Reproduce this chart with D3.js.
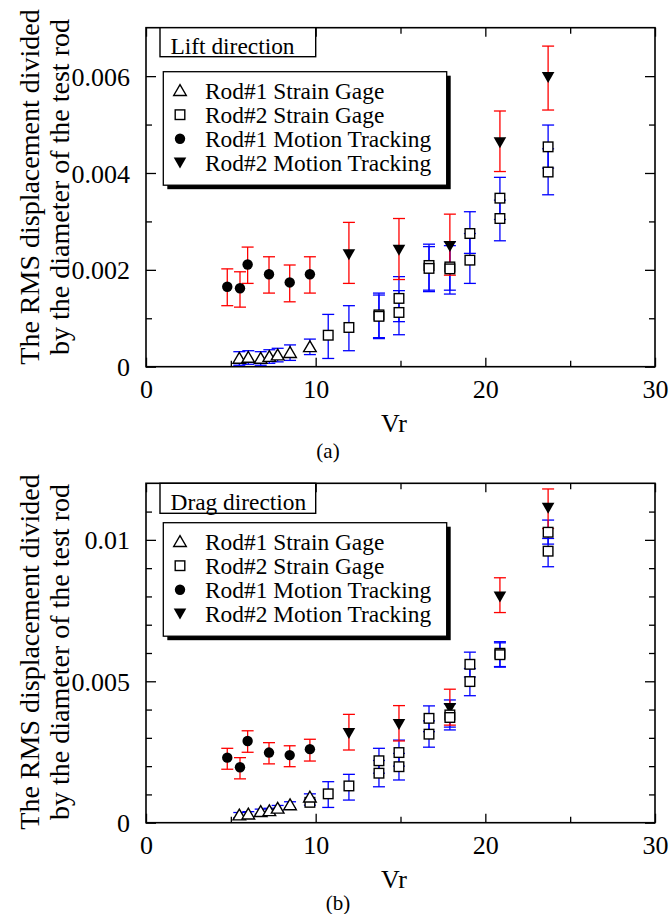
<!DOCTYPE html>
<html><head><meta charset="utf-8">
<script src="https://cdn.jsdelivr.net/npm/d3@7"></script>
<style>
html,body{margin:0;padding:0;background:#fff;}
svg{display:block;}
text{font-family:"Liberation Serif","Times New Roman",Times,serif;fill:#000;}
</style></head>
<body>
<svg id="fig" width="672" height="914"></svg>
<script>
// ---------- DATA (each row: [Vr, value, lower bound, upper bound]) ----------
const seriesNames = ["Rod#1 Strain Gage", "Rod#2 Strain Gage", "Rod#1 Motion Tracking", "Rod#2 Motion Tracking"];
const xTicks = [0, 10, 20, 30];
const xMinor = [5, 15, 25];

// (a) Lift direction
const liftYTicks = [0, 0.002, 0.004, 0.006];
const liftYLabels = ["0", "0.002", "0.004", "0.006"];
const liftYMinor = [0.001, 0.003, 0.005];
const liftRod1SG = [
  [5.50, 0.00017, 0.00003, 0.00031],
  [6.03, 0.00019, 0.00005, 0.00033],
  [6.76, 0.00017, 0.00003, 0.00031],
  [7.27, 0.00021, 0.00007, 0.00035],
  [7.76, 0.00024, 0.00010, 0.00038],
  [8.49, 0.00029, 0.00013, 0.00045],
  [9.66, 0.00041, 0.00025, 0.00057]
];
const liftRod2SG = [
  [10.74, 0.00065, 0.00017, 0.00108],
  [11.96, 0.00081, 0.00033, 0.00126],
  [13.73, 0.00107, 0.00060, 0.00152],
  [13.73, 0.00104, 0.00058, 0.00148],
  [14.91, 0.00141, 0.00093, 0.00186],
  [14.91, 0.00112, 0.00066, 0.00157],
  [16.68, 0.00209, 0.00158, 0.00253],
  [16.68, 0.00203, 0.00155, 0.00248],
  [17.91, 0.00206, 0.00158, 0.00258],
  [17.91, 0.00202, 0.00150, 0.00250],
  [19.09, 0.00275, 0.00234, 0.00320],
  [19.09, 0.00220, 0.00172, 0.00275],
  [20.86, 0.00348, 0.00304, 0.00391],
  [20.86, 0.00306, 0.00260, 0.00344],
  [23.70, 0.00454, 0.00410, 0.00499],
  [23.70, 0.00402, 0.00355, 0.00450]
];
const liftRod1MT = [
  [4.79, 0.00165, 0.00126, 0.00202],
  [5.54, 0.00162, 0.00123, 0.00196],
  [5.99, 0.00211, 0.00172, 0.00247],
  [7.25, 0.00191, 0.00152, 0.00227],
  [8.47, 0.00174, 0.00134, 0.00210],
  [9.66, 0.00191, 0.00152, 0.00227]
];
const liftRod2MT = [
  [11.96, 0.00232, 0.00172, 0.00298],
  [14.91, 0.00241, 0.00180, 0.00306],
  [17.91, 0.00249, 0.00189, 0.00315],
  [20.86, 0.00463, 0.00403, 0.00528],
  [23.70, 0.00598, 0.00530, 0.00662]
];

// (b) Drag direction
const dragYTicks = [0, 0.005, 0.01];
const dragYLabels = ["0", "0.005", "0.01"];
const dragYMinor = [0.001, 0.002, 0.003, 0.004, 0.006, 0.007, 0.008, 0.009, 0.011];
const dragRod1SG = [
  [5.50, 0.00027, 0.00018, 0.00036],
  [6.03, 0.00030, 0.00021, 0.00039],
  [6.76, 0.00039, 0.00030, 0.00048],
  [7.27, 0.00042, 0.00033, 0.00051],
  [7.76, 0.00051, 0.00041, 0.00061],
  [8.49, 0.00063, 0.00052, 0.00074],
  [9.66, 0.00090, 0.00078, 0.00102]
];
const dragRod2SG = [
  [9.66, 0.00072, 0.00062, 0.00082],
  [10.74, 0.00102, 0.00054, 0.00145],
  [11.96, 0.00130, 0.00080, 0.00171],
  [13.73, 0.00219, 0.00175, 0.00263],
  [13.73, 0.00175, 0.00127, 0.00220],
  [14.91, 0.00248, 0.00200, 0.00292],
  [14.91, 0.00198, 0.00151, 0.00245],
  [16.68, 0.00369, 0.00322, 0.00413],
  [16.68, 0.00313, 0.00267, 0.00360],
  [17.91, 0.00381, 0.00338, 0.00434],
  [17.91, 0.00372, 0.00328, 0.00420],
  [19.09, 0.00560, 0.00515, 0.00603],
  [19.09, 0.00499, 0.00449, 0.00545],
  [20.86, 0.00599, 0.00552, 0.00640],
  [20.86, 0.00594, 0.00550, 0.00636],
  [23.70, 0.01027, 0.00985, 0.01070],
  [23.70, 0.00960, 0.00905, 0.01005]
];
const dragRod1MT = [
  [4.79, 0.00230, 0.00189, 0.00263],
  [5.54, 0.00196, 0.00155, 0.00230],
  [5.99, 0.00289, 0.00249, 0.00325],
  [7.25, 0.00248, 0.00208, 0.00283],
  [8.47, 0.00239, 0.00198, 0.00272],
  [9.66, 0.00260, 0.00218, 0.00295]
];
const dragRod2MT = [
  [11.96, 0.00316, 0.00257, 0.00383],
  [14.91, 0.00348, 0.00289, 0.00414],
  [17.91, 0.00405, 0.00345, 0.00472],
  [20.86, 0.00799, 0.00743, 0.00866],
  [23.70, 0.01113, 0.01040, 0.01180]
];

// ---------- DRAWING ----------
const svg = d3.select("#fig");
const RED = "#ff0000", BLUE = "#0000ff";

function marker(g, type, cx, cy) {
  if (type === "tri") {
    g.append("path").attr("d", `M${cx},${cy-6}L${cx+6.3},${cy+4.8}L${cx-6.3},${cy+4.8}Z`)
      .attr("fill", "#fff").attr("stroke", "#000").attr("stroke-width", 1.4);
  } else if (type === "sq") {
    g.append("rect").attr("x", cx-4.8).attr("y", cy-4.8).attr("width", 9.6).attr("height", 9.6)
      .attr("fill", "#fff").attr("stroke", "#000").attr("stroke-width", 1.4);
  } else if (type === "dot") {
    g.append("circle").attr("cx", cx).attr("cy", cy).attr("r", 5.2).attr("fill", "#000");
  } else if (type === "inv") {
    g.append("path").attr("d", `M${cx-6.3},${cy-5.2}L${cx+6.3},${cy-5.2}L${cx},${cy+5.8}Z`).attr("fill", "#000");
  }
}

function drawChart(cfg) {
  const x = d3.scaleLinear().domain([0, 30]).range([146, 655]);
  const y = d3.scaleLinear().domain([0, cfg.ymax]).range([cfg.bottom, cfg.top]);
  const g = svg.append("g");

  // axes (ticks inward, all four sides)
  const fmtY = d => cfg.yLabels[cfg.yTicks.indexOf(d)];
  const axL = g.append("g").attr("transform", "translate(146,0)")
    .call(d3.axisLeft(y).tickValues(cfg.yTicks).tickFormat(fmtY).tickSizeInner(-10).tickSizeOuter(0).tickPadding(16));
  g.append("g").attr("transform", "translate(146,0)")
    .call(d3.axisLeft(y).tickValues(cfg.yMinor).tickFormat("").tickSizeInner(-6).tickSizeOuter(0));
  g.append("g").attr("transform", "translate(655,0)")
    .call(d3.axisRight(y).tickValues(cfg.yTicks).tickFormat("").tickSizeInner(-10).tickSizeOuter(0));
  g.append("g").attr("transform", "translate(655,0)")
    .call(d3.axisRight(y).tickValues(cfg.yMinor).tickFormat("").tickSizeInner(-6).tickSizeOuter(0));
  const axB = g.append("g").attr("transform", `translate(0,${cfg.bottom})`)
    .call(d3.axisBottom(x).tickValues(xTicks).tickFormat(d3.format("d")).tickSizeInner(-9).tickSizeOuter(0).tickPadding(13));
  g.append("g").attr("transform", `translate(0,${cfg.bottom})`)
    .call(d3.axisBottom(x).tickValues(xMinor).tickFormat("").tickSizeInner(-6).tickSizeOuter(0));
  g.append("g").attr("transform", `translate(0,${cfg.top})`)
    .call(d3.axisTop(x).tickValues(xTicks).tickFormat("").tickSizeInner(-9).tickSizeOuter(0));
  g.append("g").attr("transform", `translate(0,${cfg.top})`)
    .call(d3.axisTop(x).tickValues(xMinor).tickFormat("").tickSizeInner(-6).tickSizeOuter(0));
  g.selectAll(".domain").remove();
  g.selectAll(".tick line").attr("stroke", "#000").attr("stroke-width", 1.3);
  g.selectAll(".tick text").attr("font-size", 26).attr("font-family", '"Liberation Serif",serif').attr("fill", "#000");
  axL.selectAll(".tick text").attr("dy", "0.35em");
  axB.selectAll(".tick text").attr("dy", "0.71em");
  g.append("rect").attr("x", 146).attr("y", cfg.top).attr("width", 655-146).attr("height", cfg.bottom-cfg.top)
    .attr("fill", "none").attr("stroke", "#000").attr("stroke-width", 1.6);

  // error bars
  const eb = (data, color) => {
    data.forEach(d => {
      const cx = x(d[0]), y1 = y(d[2]), y2 = y(d[3]);
      g.append("line").attr("x1", cx).attr("x2", cx).attr("y1", y1).attr("y2", y2).attr("stroke", color).attr("stroke-width", 1.3);
      [y1, y2].forEach(yy => g.append("line").attr("x1", cx-6).attr("x2", cx+6).attr("y1", yy).attr("y2", yy).attr("stroke", color).attr("stroke-width", 1.3));
    });
  };
  eb(cfg.rod1SG, BLUE); eb(cfg.rod2SG, BLUE); eb(cfg.rod1MT, RED); eb(cfg.rod2MT, RED);
  cfg.rod1MT.forEach(d => marker(g, "dot", x(d[0]), y(d[1])));
  cfg.rod2MT.forEach(d => marker(g, "inv", x(d[0]), y(d[1])));
  cfg.rod2SG.forEach(d => marker(g, "sq", x(d[0]), y(d[1])));
  cfg.rod1SG.forEach(d => marker(g, "tri", x(d[0]), y(d[1])));

  // title box
  g.append("rect").attr("x", 160).attr("y", cfg.top).attr("width", 155.7).attr("height", cfg.titleH)
    .attr("fill", "#fff").attr("stroke", "#000").attr("stroke-width", 1.4);
  g.append("text").attr("x", 170.5).attr("y", cfg.top + cfg.titleH - 3).attr("font-size", 23.4).text(cfg.title);

  // legend box with shadow
  const lx = 163.3, ly = cfg.legTop, lw = 283.4, lh = 113.5;
  g.append("rect").attr("x", lx+4).attr("y", ly+4).attr("width", lw).attr("height", lh).attr("fill", "#000");
  g.append("rect").attr("x", lx).attr("y", ly).attr("width", lw).attr("height", lh)
    .attr("fill", "#fff").attr("stroke", "#000").attr("stroke-width", 1.3);
  const types = ["tri", "sq", "dot", "inv"];
  seriesNames.forEach((name, i) => {
    const cy = ly + 19 + i * 24;
    marker(g, types[i], 180, cy);
    g.append("text").attr("x", 205).attr("y", cy + 7.8).attr("font-size", 23.4).text(name);
  });

  // y axis label
  const yl = g.append("text").attr("transform", `translate(0,${cfg.yLabelC}) rotate(-90)`)
    .attr("text-anchor", "middle").attr("font-size", 28);
  yl.append("tspan").attr("x", 0).attr("y", 38.5).text("The RMS displacement divided");
  yl.append("tspan").attr("x", 0).attr("y", 68.5).text("by the diameter of the test rod");

  // x axis label and caption
  g.append("text").attr("x", 394).attr("y", cfg.bottom + 65).attr("text-anchor", "middle").attr("font-size", 26).text("Vr");
  g.append("text").attr("x", cfg.capX).attr("y", cfg.bottom + cfg.capDy).attr("text-anchor", "middle").attr("font-size", 21).text(cfg.caption);
}

drawChart({
  top: 27.7, bottom: 366.7, ymax: 0.007, yTicks: liftYTicks, yLabels: liftYLabels, yMinor: liftYMinor,
  rod1SG: liftRod1SG, rod2SG: liftRod2SG, rod1MT: liftRod1MT, rod2MT: liftRod2MT,
  title: "Lift direction", titleH: 29, legTop: 71.7, yLabelC: 187, capX: 328, capDy: 91, caption: "(a)"
});
drawChart({
  top: 483.3, bottom: 822.7, ymax: 0.012, yTicks: dragYTicks, yLabels: dragYLabels, yMinor: dragYMinor,
  rod1SG: dragRod1SG, rod2SG: dragRod2SG, rod1MT: dragRod1MT, rod2MT: dragRod2MT,
  title: "Drag direction", titleH: 30, legTop: 522.7, yLabelC: 652, capX: 338, capDy: 87, caption: "(b)"
});
</script>
</body></html>
